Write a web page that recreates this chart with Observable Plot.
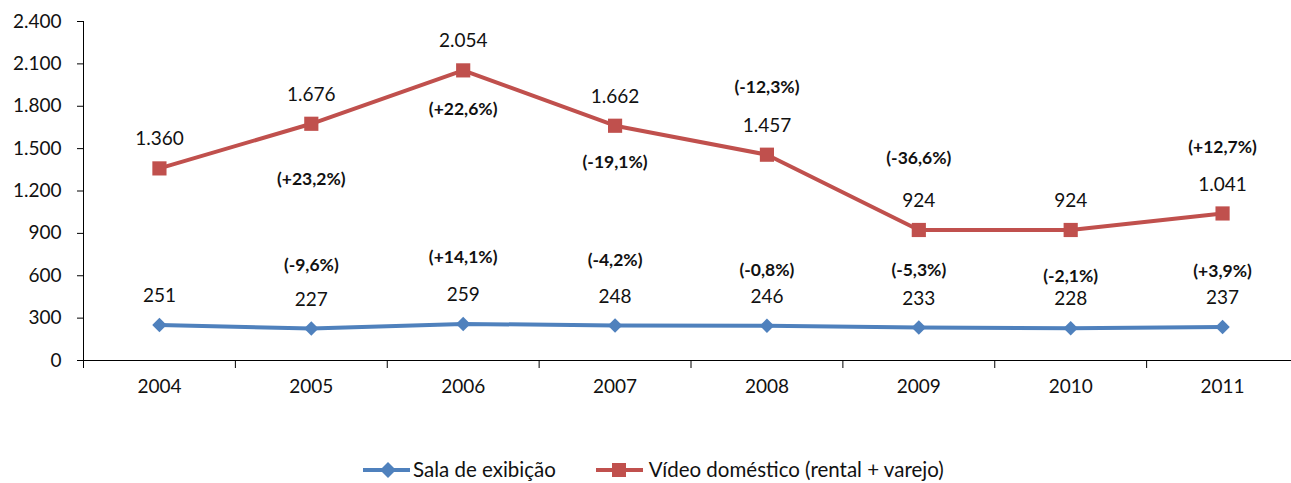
<!DOCTYPE html>
<html>
<head>
<meta charset="utf-8">
<script src="https://cdn.jsdelivr.net/npm/d3@7"></script>
<script src="https://cdn.jsdelivr.net/npm/@observablehq/plot@0.6"></script>
<style>
  html, body { margin: 0; padding: 0; background: #fff; }
  #wrap { position: relative; width: 1291px; height: 483px; font-family: Lato, "Open Sans", sans-serif; }
  #legend { position: absolute; left: 363px; top: 457px; display: flex; font-size: 20.5px; line-height: 25px; color: #111; }
  .item { display: flex; align-items: center; }
</style>
</head>
<body>
<div id="wrap">
  <div id="chart"></div>
  <div id="legend"></div>
</div>
<script>
const years = [2004, 2005, 2006, 2007, 2008, 2009, 2010, 2011];
const sala = [251, 227, 259, 248, 246, 233, 228, 237];
const video = [1360, 1676, 2054, 1662, 1457, 924, 924, 1041];
const salaPct = [null, "(-9,6%)", "(+14,1%)", "(-4,2%)", "(-0,8%)", "(-5,3%)", "(-2,1%)", "(+3,9%)"];
const videoPct = [null, "(+23,2%)", "(+22,6%)", "(-19,1%)", "(-12,3%)", "(-36,6%)", null, "(+12,7%)"];
// where each percentage label sits, in data units
const salaPctAt = [null, 673, 729, 708, 637, 637, 595, 630];
const videoPctAt = [null, 1281, 1777, 1402, 1933, 1430, null, 1508];
const seriesNames = ["Sala de exibição", "Vídeo doméstico (rental + varejo)"];
const yTicks = [0, 300, 600, 900, 1200, 1500, 1800, 2100, 2400];

const BLUE = "#4F81BD", RED = "#C0504D";
const ptBR = d3.formatLocale({decimal: ",", thousands: ".", grouping: [3], currency: ["R$", ""]});
const fmt = ptBR.format(",d");

const rows = [];
years.forEach((yr, i) => {
  rows.push({year: yr, series: seriesNames[0], value: sala[i], pct: salaPct[i], pctAt: salaPctAt[i]});
});
years.forEach((yr, i) => {
  rows.push({year: yr, series: seriesNames[1], value: video[i], pct: videoPct[i], pctAt: videoPctAt[i]});
});
const salaRows = rows.filter(d => d.series === seriesNames[0]);
const videoRows = rows.filter(d => d.series === seriesNames[1]);
const pctRows = rows.filter(d => d.pct);
const bounds = d3.range(years[0] - 0.5, years[years.length - 1] + 1, 1);

const chart = Plot.plot({
  width: 1291,
  height: 440,
  marginLeft: 83,
  marginRight: 0,
  marginTop: 21,
  marginBottom: 80,
  style: {fontFamily: "Lato, 'Open Sans', sans-serif", color: "#111", background: "white"},
  x: {domain: [years[0] - 0.5, years[years.length - 1] + 0.5], range: [83, 1298]},
  y: {domain: [0, 2400], range: [360, 21]},
  marks: [
    Plot.axisX(bounds, {tickSize: 8, tickFormat: () => "", label: null, stroke: "#000", strokeOpacity: 1, strokeWidth: 1}),
    Plot.axisX(years, {tickSize: 0, tickPadding: 19, tickFormat: d => String(d), label: null, fontSize: 19, fill: "#111"}),
    Plot.axisY(yTicks, {tickSize: 6, tickPadding: 16, tickFormat: fmt, label: null, fontSize: 19, fill: "#111", stroke: "#000", strokeOpacity: 1}),
    Plot.ruleX([years[0] - 0.5], {y1: 0, y2: 2400, stroke: "#000", strokeWidth: 1}),
    Plot.ruleY([0], {stroke: "#000", strokeWidth: 1}),
    Plot.line(videoRows, {x: "year", y: "value", stroke: RED, strokeWidth: 4}),
    Plot.line(salaRows, {x: "year", y: "value", stroke: BLUE, strokeWidth: 4}),
    Plot.dot(videoRows, {x: "year", y: "value", symbol: "square", r: 8, fill: RED, stroke: "none"}),
    Plot.dot(salaRows, {x: "year", y: "value", symbol: "diamond2", r: 6.5, fill: BLUE, stroke: "none"}),
    Plot.text(rows, {x: "year", y: "value", text: d => fmt(d.value), dy: -29, fontSize: 19, fill: "#111"}),
    Plot.text(pctRows, {x: "year", y: "pctAt", text: "pct", fontSize: 17.5, fontWeight: "bold", fill: "#111"})
  ]
});
document.getElementById("chart").appendChild(chart);

const legend = document.getElementById("legend");
const swatch = (color, symbol) => {
  const s = d3.create("svg").attr("width", 48).attr("height", 18);
  s.append("line").attr("x1", 0).attr("x2", 47).attr("y1", 9).attr("y2", 9).attr("stroke", color).attr("stroke-width", 4);
  if (symbol === "square") s.append("rect").attr("x", 16).attr("y", 2).attr("width", 14).attr("height", 14).attr("fill", color);
  else s.append("path").attr("d", "M25,1L33,9L25,17L17,9Z").attr("fill", color);
  return s.node();
};
[[seriesNames[0], BLUE, "diamond", "40px", "2px"], [seriesNames[1], RED, "square", "0px", "5px"]].forEach(([name, c, sym, mr, gap]) => {
  const it = document.createElement("div");
  it.className = "item";
  it.style.marginRight = mr;
  const sw = swatch(c, sym);
  sw.style.marginRight = gap;
  it.appendChild(sw);
  const t = document.createElement("span");
  t.textContent = name;
  it.appendChild(t);
  legend.appendChild(it);
});
</script>
</body>
</html>
